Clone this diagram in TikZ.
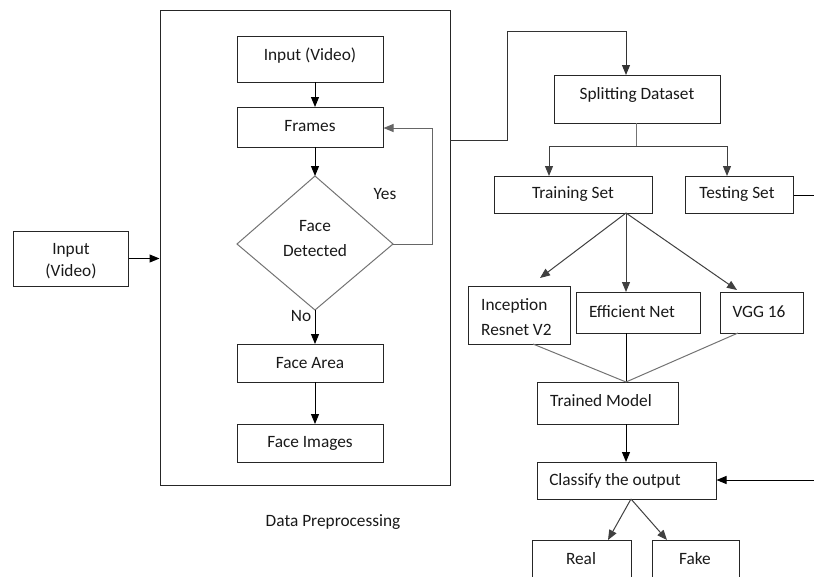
\documentclass[tikz,border=0pt]{standalone}
\usepackage{fontspec}
\setmainfont{Carlito}
\usetikzlibrary{arrows.meta}
\begin{document}
\begin{tikzpicture}[x=1pt,y=-1pt,
  box/.style={draw=black!85, line width=1pt, inner sep=0pt},
  txt/.style={font=\fontsize{17.3}{20}\selectfont, text=black!90, inner sep=0pt, anchor=center, yshift=-1.5pt},
  arr/.style={line width=1pt, -{Triangle[length=10pt,width=8pt]}},
  ln/.style={line width=1pt},
  gln/.style={line width=1pt, draw=black!55},
  garr/.style={line width=1pt, draw=black!75, -{Triangle[length=10pt,width=8pt]}}]
\useasboundingbox (0,0) rectangle (814,576);
\clip (0,0) rectangle (814,576);
% outer frame
\node[box, minimum width=290, minimum height=475] (frame) at (305,247.5) {};
% left input
\node[box, minimum width=115, minimum height=55] (lin) at (70.5,258.5) {};
\node[txt] at (71,249) {Input};
\node[txt] at (71,270) {(Video)};
% inner boxes
\node[box, minimum width=146, minimum height=46] (vin) at (310,59) {};
\node[txt] at (310,54) {Input (Video)};
\node[box, minimum width=146, minimum height=40] (frames) at (310,127) {};
\node[txt] at (310,125) {Frames};
\draw[draw=black!55, line width=1pt] (237,244) -- (315,176) -- (393,244) -- (315,310) -- cycle;
\coordinate (dtop) at (315,176);
\coordinate (dbot) at (315,310);
\coordinate (dright) at (393,244);
\node[txt] at (315,225) {Face};
\node[txt] at (315,249) {Detected};
\node[txt] at (385,193) {Yes};
\node[txt] at (301,315) {No};
\node[box, minimum width=146, minimum height=38] (farea) at (310,363) {};
\node[txt] at (310,362) {Face Area};
\node[box, minimum width=146, minimum height=38] (fimg) at (310,443) {};
\node[txt] at (310,442) {Face Images};
\node[txt] at (333,521) {Data Preprocessing};
% connectors left
\draw[arr] (lin.east) -- (frame.west |- lin.east);
\draw[arr] (315,82) -- (315,107);
\draw[arr] (315,147) -- (dtop);
\draw[arr] (dbot) -- (315,344);
\draw[arr] (315,382) -- (315,424);
\draw[arr, draw=black!60] (dright) -- (432,244) -- (432,128) -- (frames.east |- 0,128);
% right side
\node[box, minimum width=166, minimum height=48] (split) at (637,99) {};
\node[txt] at (637,93) {Splitting Dataset};
\draw[arr, draw=black!80] (450,140) -- (507,140) -- (507,31) -- (626,31) -- (626,75);
\node[box, minimum width=158, minimum height=37] (train) at (573,194.5) {};
\node[txt] at (573,193) {Training Set};
\node[box, minimum width=108, minimum height=37] (test) at (739,194.5) {};
\node[txt] at (737,193) {Testing Set};
\draw[gln] (636,123) -- (636,146);
\draw[garr] (549,146) -- (549,176);
\draw[garr] (549,146) -- (727,146) -- (727,176);
\draw[ln] (test.east |- 0,195) -- (814,195);
\coordinate (tb) at (626,213);
\node[box, minimum width=102, minimum height=58] (incep) at (519,315) {};
\node[txt, anchor=west] at (481,304) {Inception};
\node[txt, anchor=west] at (481,328) {Resnet V2};
\node[box, minimum width=124, minimum height=41] (eff) at (638,312.5) {};
\node[txt] at (632,310) {Efficient Net};
\node[box, minimum width=83, minimum height=41] (vgg) at (761.5,312.5) {};
\node[txt] at (759,310) {VGG 16};
\draw[garr] (tb) -- (540,278);
\draw[garr] (tb) -- (626,292);
\draw[garr] (tb) -- (737,290);
\node[box, minimum width=141, minimum height=42] (tm) at (607.5,403) {};
\node[txt] at (601,399) {Trained Model};
\coordinate (tmtop) at (626,382);
\draw[gln] (533,344) -- (tmtop);
\draw[ln] (626,333) -- (tmtop);
\draw[gln] (738,333) -- (tmtop);
\node[box, minimum width=179, minimum height=37] (cls) at (626.5,480.5) {};
\node[txt] at (615,479) {Classify the output};
\draw[arr] (626,424) -- (626,462);
\draw[arr] (814,480) -- (cls.east |- 0,480);
\node[box, minimum width=99, minimum height=60] (real) at (581.5,570) {};
\node[txt] at (581,557) {Real};
\node[box, minimum width=87, minimum height=60] (fake) at (695.5,570) {};
\node[txt] at (695,557) {Fake};
\coordinate (cb) at (631,499);
\draw[garr] (cb) -- (608,540);
\draw[garr] (cb) -- (667,540);
\end{tikzpicture}
\end{document}
